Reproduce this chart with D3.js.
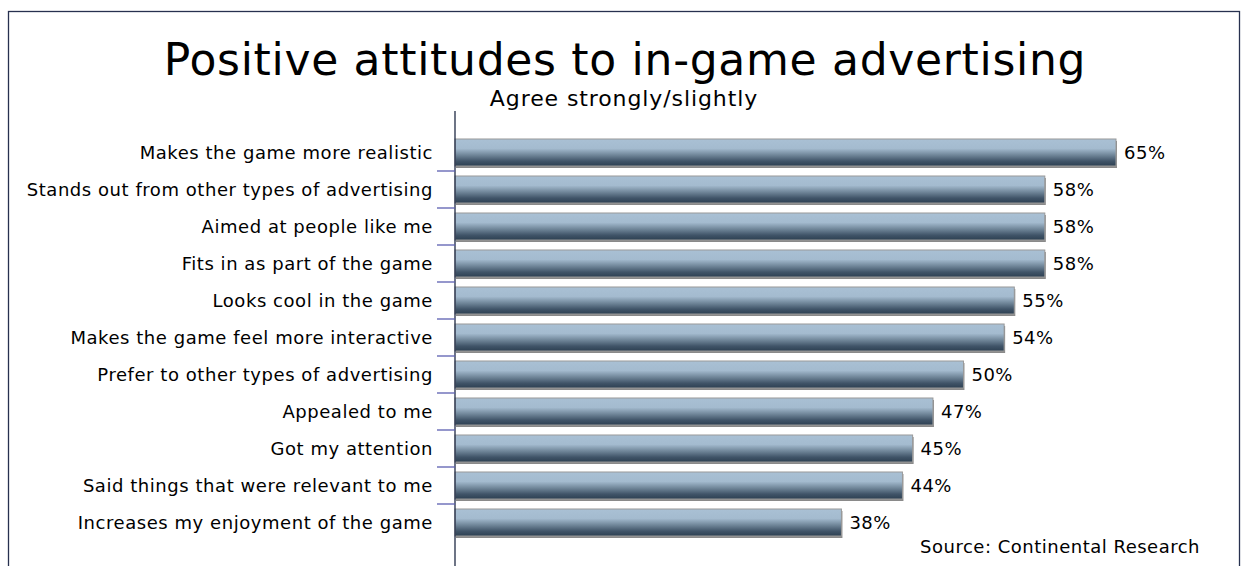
<!DOCTYPE html>
<html>
<head>
<meta charset="utf-8">
<script src="https://cdn.jsdelivr.net/npm/d3@7"></script>
<style>
  html, body { margin: 0; padding: 0; background: #fff; }
  svg { display: block; }
  text { font-family: "DejaVu Sans", Verdana, sans-serif; fill: #000; }
</style>
</head>
<body>
<svg id="chart" width="1244" height="566"></svg>
<script>
const categories = [
  "Makes the game more realistic",
  "Stands out from other types of advertising",
  "Aimed at people like me",
  "Fits in as part of the game",
  "Looks cool in the game",
  "Makes the game feel more interactive",
  "Prefer to other types of advertising",
  "Appealed to me",
  "Got my attention",
  "Said things that were relevant to me",
  "Increases my enjoyment of the game"
];
const values = [65, 58, 58, 58, 55, 54, 50, 47, 45, 44, 38];
const title = "Positive attitudes to in-game advertising";
const subtitle = "Agree strongly/slightly";
const source = "Source: Continental Research";

const svg = d3.select("#chart");

// outer frame
svg.append("rect")
  .attr("x", 8.5).attr("y", 11.5)
  .attr("width", 1231).attr("height", 600)
  .attr("fill", "#fff").attr("stroke", "#27314f").attr("stroke-width", 1.3);

const defs = svg.append("defs");
const grad = defs.append("linearGradient")
  .attr("id", "barGrad").attr("x1", 0).attr("y1", 0).attr("x2", 0).attr("y2", 1);
grad.append("stop").attr("offset", "0%").attr("stop-color", "#a9c0d4");
grad.append("stop").attr("offset", "35%").attr("stop-color", "#a4bbcf");
grad.append("stop").attr("offset", "60%").attr("stop-color", "#6f8598");
grad.append("stop").attr("offset", "82%").attr("stop-color", "#405468");
grad.append("stop").attr("offset", "100%").attr("stop-color", "#2d4052");

const x0 = 455;
const x = d3.scaleLinear().domain([0, 65]).range([x0, 1116]);
const y = d3.scaleBand().domain(categories).range([134, 541]).paddingInner(0.27).paddingOuter(0.135);

// title
svg.append("text").attr("x", 625).attr("y", 75)
  .attr("text-anchor", "middle").style("font-size", "44px").style("letter-spacing", "0.7px").text(title);
svg.append("text").attr("x", 624).attr("y", 106)
  .attr("text-anchor", "middle").style("font-size", "22px").style("letter-spacing", "0.9px").text(subtitle);

// bars
const g = svg.append("g");
const rows = g.selectAll("g.row").data(categories).join("g").attr("class", "row");
rows.append("rect")
  .attr("x", x(0) + 1)
  .attr("y", d => y(d) + 2)
  .attr("width", (d, i) => x(values[i]) - x(0))
  .attr("height", y.bandwidth())
  .attr("fill", "#8a8a8a");
rows.append("rect")
  .attr("x", x(0))
  .attr("y", d => y(d))
  .attr("width", (d, i) => x(values[i]) - x(0))
  .attr("height", y.bandwidth())
  .attr("fill", "url(#barGrad)")
  .attr("stroke", "#9a9a9a").attr("stroke-width", 1);

// value labels
rows.append("text")
  .attr("x", (d, i) => x(values[i]) + 8)
  .attr("y", d => y(d) + y.bandwidth() / 2)
  .attr("dy", "0.38em")
  .style("font-size", "18px").style("letter-spacing", "0.5px")
  .text((d, i) => values[i] + "%");

// category axis
const axis = d3.axisLeft(y).tickSize(0).tickPadding(22);
const ag = svg.append("g").attr("transform", `translate(${x0},0)`).call(axis);
ag.select(".domain").remove();
ag.selectAll("text")
  .attr("dy", "0.36em")
  .style("font-size", "18px").style("letter-spacing", "0.55px")
  .style("font-family", '"DejaVu Sans", Verdana, sans-serif').attr("fill", "#000");

// axis line
svg.append("line").attr("x1", x0).attr("x2", x0).attr("y1", 111).attr("y2", 566)
  .attr("stroke", "#1f2a44").attr("stroke-width", 1.3);
// boundary ticks between categories
svg.selectAll("line.tk").data(categories.slice(1)).join("line").attr("class", "tk")
  .attr("x1", x0 - 18).attr("x2", x0)
  .attr("y1", d => y(d) - (y.step() - y.bandwidth()) / 2)
  .attr("y2", d => y(d) - (y.step() - y.bandwidth()) / 2)
  .attr("stroke", "#5b5fb0").attr("stroke-width", 1.3);

// source
svg.append("text").attr("x", 1200).attr("y", 553)
  .attr("text-anchor", "end").style("font-size", "18px").style("letter-spacing", "0.5px").text(source);
</script>
</body>
</html>
